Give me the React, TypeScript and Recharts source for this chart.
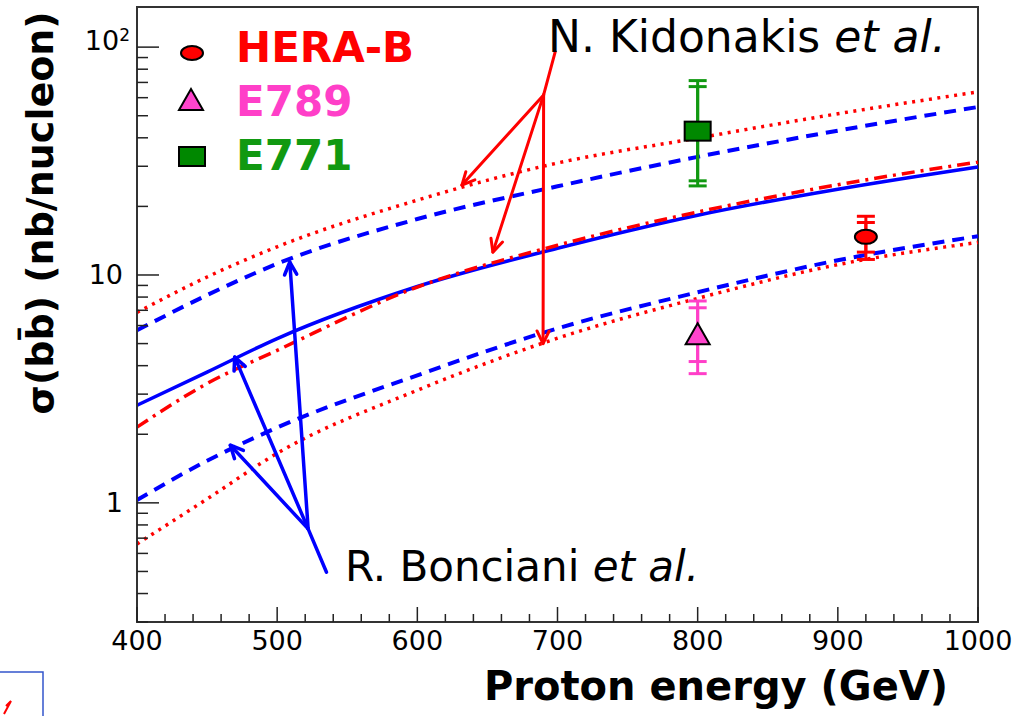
import React from 'react';
import {
  ComposedChart, Line, Scatter, XAxis, YAxis, ErrorBar, ReferenceLine, ReferenceArea,
} from 'recharts';

const FONT = "'Comic Sans MS', 'DejaVu Sans', sans-serif";
const RED = '#ff0000';
const BLUE = '#0000ff';
const PINK = '#ff3fc8';
const GREEN = '#119911';

// proton beam energy (GeV)
const energies = [400, 450, 500, 600, 700, 800, 900, 1000];

// R. Bonciani et al. — central value and scale band (nb/nucleon)
const boncCentral = [2.68, 3.75, 5.26, 8.9, 13.1, 18.3, 23.8, 29.8];
const boncUpper = [5.72, 8.16, 11.2, 17.6, 24.5, 33.0, 43.0, 54.6];
const boncLower = [1.03, 1.53, 2.14, 3.63, 5.83, 8.4, 11.6, 14.8];

// N. Kidonakis et al.
const kidoCentral = [2.15, 3.34, 4.67, 8.85, 13.5, 18.9, 24.9, 31.3];
const kidoUpper = [6.85, 9.8, 13.3, 21.3, 31.0, 39.9, 51.0, 63.6];
const kidoLower = [0.66, 1.04, 1.65, 3.12, 5.28, 7.9, 11.1, 13.9];

// measurements: [energy, sigma, inner err low/high, outer err low/high]
const heraB = [{ E: 920, sigma: 14.7, inner: [2.1, 2.3], outer: [3.0, 3.4] }];
const e789 = [{ E: 800, sigma: 5.5, inner: [1.33, 1.68], outer: [1.81, 2.19] }];
const e771 = [{ E: 800, sigma: 43, inner: [17.1, 24.1], outer: [18.4, 28.3] }];

const xTicks = [400, 420, 440, 460, 480, 500, 520, 540, 560, 580, 600, 620, 640, 660, 680, 700,
  720, 740, 760, 780, 800, 820, 840, 860, 880, 900, 920, 940, 960, 980, 1000];
const xMajor = [400, 500, 600, 700, 800, 900, 1000];
const yTicks = [0.3, 0.4, 0.5, 0.6, 0.7, 0.8, 0.9, 1, 2, 3, 4, 5, 6, 7, 8, 9,
  10, 20, 30, 40, 50, 60, 70, 80, 90, 100];
const yMajor = [1, 10, 100];

// annotation arrows in data coordinates: [from, to]
const kidoStem = [{ x: 698.4, y: 95.6 }, { x: 690.1, y: 61.7 }];
const kidoTips = [{ x: 631.8, y: 24.8 }, { x: 653.9, y: 12.6 }, { x: 689.7, y: 5.0 }];
const boncStem = [{ x: 535.2, y: 0.496 }, { x: 522.1, y: 0.769 }];
const boncTips = [{ x: 509.0, y: 11.4 }, { x: 469.7, y: 4.36 }, { x: 466.6, y: 1.79 }];

const rows = energies.map((E, i) => ({
  E,
  boncCentral: boncCentral[i],
  boncUpper: boncUpper[i],
  boncLower: boncLower[i],
  kidoCentral: kidoCentral[i],
  kidoUpper: kidoUpper[i],
  kidoLower: kidoLower[i],
}));

function XTick({ x, y, payload }: any) {
  const major = xMajor.includes(payload.value);
  return (
    <g>
      <line x1={x} x2={x} y1={y} y2={y - (major ? 15 : 8)} stroke="#222" strokeWidth={1.5} />
      {major && (
        <text x={x} y={y + 19} dy="0.35em" textAnchor="middle" fontSize={27} fontFamily={FONT} fill="#000">
          {payload.value}
        </text>
      )}
    </g>
  );
}

function YTick({ x, y, payload }: any) {
  const v = payload.value;
  const major = yMajor.includes(v);
  return (
    <g>
      <line x1={x} x2={x + (major ? 22 : 11)} y1={y} y2={y} stroke="#222" strokeWidth={1.5} />
      {v === 100 ? (
        <text x={x - 7} y={y} dy="0.1em" textAnchor="end" fontSize={27} fontFamily={FONT} fill="#000">
          10<tspan dy="-0.5em" fontSize={17}>2</tspan>
        </text>
      ) : major ? (
        <text x={x - 14} y={y} dy="0.35em" textAnchor="end" fontSize={27} fontFamily={FONT} fill="#000">
          {v}
        </text>
      ) : null}
    </g>
  );
}

const arrow = (color: string, width: number, head: boolean) => (p: any) => {
  const { x1, y1, x2, y2 } = p;
  const a = Math.atan2(y2 - y1, x2 - x1);
  const L = 14;
  const s = 0.45;
  return (
    <g>
      <line x1={x1} y1={y1} x2={x2} y2={y2} stroke={color} strokeWidth={width} strokeLinecap="round" />
      {head && (
        <polyline
          points={`${x2 - L * Math.cos(a - s)},${y2 - L * Math.sin(a - s)} ${x2},${y2} ${x2 - L * Math.cos(a + s)},${y2 - L * Math.sin(a + s)}`}
          fill="none"
          stroke={color}
          strokeWidth={width}
          strokeLinecap="round"
          strokeLinejoin="round"
        />
      )}
    </g>
  );
};

const ellipseShape = (p: any) => (
  <ellipse cx={p.cx} cy={p.cy} rx={11} ry={7} fill={RED} stroke="#000" strokeWidth={2} />
);
const triangleShape = (p: any) => (
  <polygon
    points={`${p.cx},${p.cy - 11} ${p.cx - 12},${p.cy + 10} ${p.cx + 12},${p.cy + 10}`}
    fill="#ff44cc" stroke="#000" strokeWidth={2}
  />
);
const squareShape = (p: any) => (
  <rect x={p.cx - 13} y={p.cy - 9} width={26} height={19} fill="#008800" stroke="#000" strokeWidth={2} />
);

const legendItems = [
  { label: 'HERA-B', color: RED, top: 27 },
  { label: 'E789', color: PINK, top: 81 },
  { label: 'E771', color: GREEN, top: 135 },
];

export default function App() {
  return (
    <div style={{ position: 'absolute', left: 0, top: 0, width: 1024, height: 716, background: '#fff', overflow: 'hidden' }}>
      <ComposedChart width={1024} height={716} data={rows} margin={{ top: 7, right: 46, bottom: 0, left: 0 }}>
        <XAxis
          dataKey="E" type="number" domain={[400, 1000]} ticks={xTicks} interval={0}
          height={94} tickSize={0} tickMargin={0} tick={<XTick />}
          axisLine={{ stroke: '#333', strokeWidth: 2 }} tickLine={false}
        />
        <YAxis
          type="number" scale="log" domain={[0.3, 150]} ticks={yTicks} interval={0} allowDataOverflow
          width={137} tickSize={0} tickMargin={0} tick={<YTick />}
          axisLine={{ stroke: '#333', strokeWidth: 2 }} tickLine={false}
        />
        <ReferenceArea x1={400} x2={1000} y1={0.3} y2={150} fill="none" stroke="#333" strokeWidth={2} />

        <Line dataKey="kidoUpper" type="monotone" stroke={RED} strokeWidth={3.5} strokeDasharray="3 5.5" dot={false} isAnimationActive={false} />
        <Line dataKey="kidoLower" type="monotone" stroke={RED} strokeWidth={3.5} strokeDasharray="3 5.5" dot={false} isAnimationActive={false} />
        <Line dataKey="boncUpper" type="monotone" stroke={BLUE} strokeWidth={4} strokeDasharray="12 8" dot={false} isAnimationActive={false} />
        <Line dataKey="boncLower" type="monotone" stroke={BLUE} strokeWidth={4} strokeDasharray="12 8" dot={false} isAnimationActive={false} />
        <Line dataKey="boncCentral" type="monotone" stroke={BLUE} strokeWidth={3.5} dot={false} isAnimationActive={false} />
        <Line dataKey="kidoCentral" type="monotone" stroke={RED} strokeWidth={3.5} strokeDasharray="13 6 3 6" dot={false} isAnimationActive={false} />

        <ReferenceLine segment={kidoStem} shape={arrow(RED, 3, false)} />
        {kidoTips.map((t, i) => (
          <ReferenceLine key={`k${i}`} segment={[kidoStem[1], t]} shape={arrow(RED, 3, true)} />
        ))}
        <ReferenceLine segment={boncStem} shape={arrow(BLUE, 3.5, false)} />
        {boncTips.map((t, i) => (
          <ReferenceLine key={`b${i}`} segment={[boncStem[1], t]} shape={arrow(BLUE, 3.5, true)} />
        ))}

        <Scatter data={e771} dataKey="sigma" shape={squareShape} isAnimationActive={false}>
          <ErrorBar dataKey="outer" direction="y" width={9} stroke={GREEN} strokeWidth={3} />
          <ErrorBar dataKey="inner" direction="y" width={9} stroke={GREEN} strokeWidth={3} />
        </Scatter>
        <Scatter data={e789} dataKey="sigma" shape={triangleShape} isAnimationActive={false}>
          <ErrorBar dataKey="outer" direction="y" width={9} stroke={PINK} strokeWidth={3} />
          <ErrorBar dataKey="inner" direction="y" width={9} stroke={PINK} strokeWidth={3} />
        </Scatter>
        <Scatter data={heraB} dataKey="sigma" shape={ellipseShape} isAnimationActive={false}>
          <ErrorBar dataKey="outer" direction="y" width={9} stroke={RED} strokeWidth={3} />
          <ErrorBar dataKey="inner" direction="y" width={9} stroke={RED} strokeWidth={3} />
        </Scatter>
      </ComposedChart>

      {/* legend */}
      <svg style={{ position: 'absolute', left: 170, top: 35 }} width={50} height={140}>
        <ellipse cx={22} cy={18} rx={11} ry={7} fill={RED} stroke="#000" strokeWidth={2} />
        <polygon points="21,54 9,75 33,75" fill="#ff44cc" stroke="#000" strokeWidth={2} />
        <rect x={9} y={112} width={26} height={19} fill="#008800" stroke="#000" strokeWidth={2} />
      </svg>
      {legendItems.map((it) => (
        <div
          key={it.label}
          style={{ position: 'absolute', left: 236, top: it.top, fontFamily: FONT, fontWeight: 'bold', fontSize: 42, lineHeight: 1, color: it.color }}
        >
          {it.label}
        </div>
      ))}

      {/* theory labels */}
      <div style={{ position: 'absolute', left: 548, top: 15, fontFamily: FONT, fontSize: 44, lineHeight: 1, color: '#000', whiteSpace: 'nowrap' }}>
        N. Kidonakis <i>et al.</i>
      </div>
      <div style={{ position: 'absolute', left: 345, top: 546, fontFamily: FONT, fontSize: 42, lineHeight: 1, color: '#000', whiteSpace: 'nowrap' }}>
        R. Bonciani <i>et al.</i>
      </div>

      {/* axis titles */}
      <div style={{ position: 'absolute', left: 40, top: 213, width: 0, height: 0 }}>
        <div
          style={{
            position: 'absolute', left: 0, top: 0, transform: 'translate(-50%, -50%) rotate(-90deg)',
            fontFamily: FONT, fontWeight: 'bold', fontSize: 38, lineHeight: 1, whiteSpace: 'nowrap', color: '#000',
          }}
        >
          σ(bb̄) (nb/nucleon)
        </div>
      </div>
      <div style={{ position: 'absolute', right: 76, top: 666, fontFamily: FONT, fontWeight: 'bold', fontSize: 40, lineHeight: 1, color: '#000', whiteSpace: 'nowrap' }}>
        Proton energy (GeV)
      </div>

      {/* corner badge */}
      <svg style={{ position: 'absolute', left: 0, top: 670 }} width={48} height={46}>
        <polyline points="0,2 43,2 43,46" fill="none" stroke="#3355cc" strokeWidth={1.5} />
        <polyline points="6,36 11,31 4,44" fill="none" stroke={RED} strokeWidth={2} />
      </svg>
    </div>
  );
}
